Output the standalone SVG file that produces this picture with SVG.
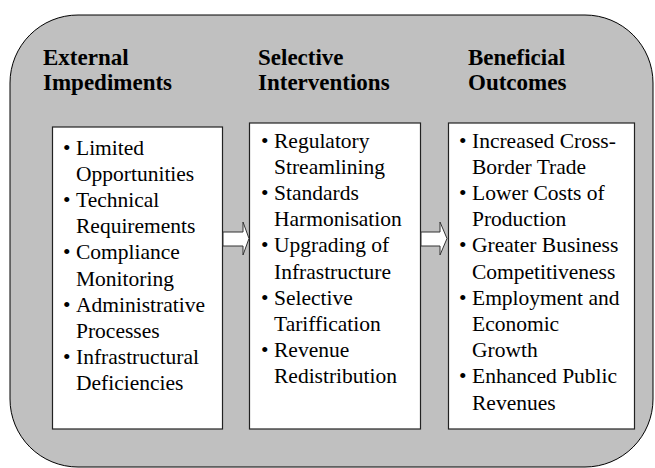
<svg xmlns="http://www.w3.org/2000/svg" width="655" height="468" viewBox="0 0 655 468">
<style>
.hd{font-weight:bold;font-size:23px;fill:#000}
.tx{font-size:21.5px;fill:#000}
.box{fill:#fff;stroke:#222;stroke-width:1.2}
.arr{fill:#fff;stroke:#333;stroke-width:1}
</style>
<rect x="10" y="15" width="643" height="452" rx="68" ry="68" fill="#c0c0c0" stroke="#000" stroke-width="1"/>
<g font-family="Liberation Serif, Times New Roman, serif">
<g id="external">
<text class="hd" x="43" y="65">External</text>
<text class="hd" x="43" y="90">Impediments</text>
<rect class="box" x="52.5" y="127" width="170" height="302"/>
<text class="tx"><tspan x="63" y="154.5">•</tspan><tspan x="76" y="154.5">Limited</tspan>
<tspan x="76" y="180.7">Opportunities</tspan>
<tspan x="63" y="206.9">•</tspan><tspan x="76" y="206.9">Technical</tspan>
<tspan x="76" y="233.1">Requirements</tspan>
<tspan x="63" y="259.3">•</tspan><tspan x="76" y="259.3">Compliance</tspan>
<tspan x="76" y="285.5">Monitoring</tspan>
<tspan x="63" y="311.7">•</tspan><tspan x="76" y="311.7">Administrative</tspan>
<tspan x="76" y="337.9">Processes</tspan>
<tspan x="63" y="364.1">•</tspan><tspan x="76" y="364.1">Infrastructural</tspan>
<tspan x="76" y="390.3">Deficiencies</tspan></text>
</g>
<g id="selective">
<text class="hd" x="258" y="65">Selective</text>
<text class="hd" x="258" y="90">Interventions</text>
<rect class="box" x="249.5" y="123" width="171" height="306"/>
<text class="tx"><tspan x="261" y="147.5">•</tspan><tspan x="274" y="147.5">Regulatory</tspan>
<tspan x="274" y="173.7">Streamlining</tspan>
<tspan x="261" y="199.9">•</tspan><tspan x="274" y="199.9">Standards</tspan>
<tspan x="274" y="226.1">Harmonisation</tspan>
<tspan x="261" y="252.3">•</tspan><tspan x="274" y="252.3">Upgrading of</tspan>
<tspan x="274" y="278.5">Infrastructure</tspan>
<tspan x="261" y="304.7">•</tspan><tspan x="274" y="304.7">Selective</tspan>
<tspan x="274" y="330.9">Tariffication</tspan>
<tspan x="261" y="357.1">•</tspan><tspan x="274" y="357.1">Revenue</tspan>
<tspan x="274" y="383.3">Redistribution</tspan></text>
</g>
<g id="beneficial">
<text class="hd" x="468" y="65">Beneficial</text>
<text class="hd" x="468" y="90">Outcomes</text>
<rect class="box" x="448.5" y="123" width="186" height="306"/>
<text class="tx"><tspan x="459" y="147.5">•</tspan><tspan x="472" y="147.5">Increased Cross-</tspan>
<tspan x="472" y="173.7">Border Trade</tspan>
<tspan x="459" y="199.9">•</tspan><tspan x="472" y="199.9">Lower Costs of</tspan>
<tspan x="472" y="226.1">Production</tspan>
<tspan x="459" y="252.3">•</tspan><tspan x="472" y="252.3">Greater Business</tspan>
<tspan x="472" y="278.5">Competitiveness</tspan>
<tspan x="459" y="304.7">•</tspan><tspan x="472" y="304.7">Employment and</tspan>
<tspan x="472" y="330.9">Economic</tspan>
<tspan x="472" y="357.1">Growth</tspan>
<tspan x="459" y="383.3">•</tspan><tspan x="472" y="383.3">Enhanced Public</tspan>
<tspan x="472" y="409.5">Revenues</tspan></text>
</g>
</g>
<g id="connectors">
<polygon class="arr" points="223,232 243,232 243,222 249,238.5 243,255 243,246 223,246"/>
<polygon class="arr" points="421,232 440,232 440,222 447,238.5 440,255 440,246 421,246"/>
</g>
</svg>
